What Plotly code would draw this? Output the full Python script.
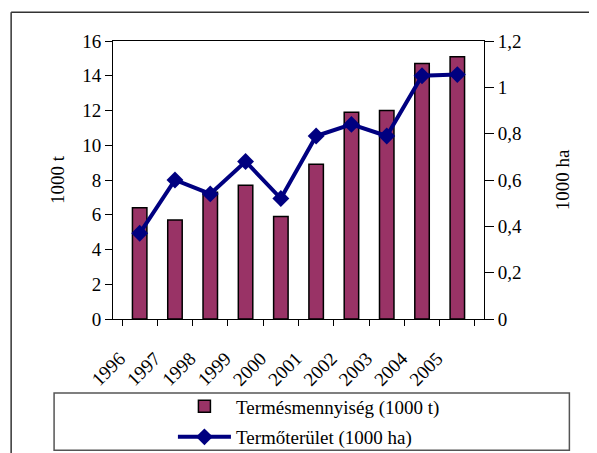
import plotly.graph_objects as go

years = ["1996", "1997", "1998", "1999", "2000", "2001", "2002", "2003", "2004", "2005"]
termes = [6.4, 5.7, 7.3, 7.7, 5.9, 8.9, 11.9, 12.0, 14.7, 15.1]        # 1000 t
terulet = [0.37, 0.60, 0.54, 0.68, 0.52, 0.79, 0.84, 0.79, 1.05, 1.055]  # 1000 ha

# page has an 8px body margin: figure is placed at (8, 8) of the window
OFF = 8
W, H = 597 - OFF, 453 - OFF
# plot-area edges in window (image) pixels
L, R, T, B = 113, 484.5, 40.7, 318.7
FONT = "Liberation Serif, Times New Roman, serif"
FS = 19

fig = go.Figure()
fig.add_trace(go.Bar(
    x=years, y=termes, name="Termésmennyiség (1000 t)",
    marker=dict(color="#993366", line=dict(color="black", width=1.5)),
    legendgroup="a", yaxis="y",
))
fig.add_trace(go.Scatter(
    x=years, y=terulet, name="Termőterület (1000 ha)", mode="lines+markers",
    line=dict(color="#000080", width=4),
    marker=dict(symbol="diamond", size=13, color="#000080"),
    legendgroup="b", yaxis="y2",
))

def px_x(p):
    return (p - L) / (R - L)

def px_y(p):
    return (B - p) / (B - T)

shapes = [
    # outer chart border (left and top)
    dict(type="line", xref="paper", yref="paper", x0=px_x(11), x1=px_x(11), y0=px_y(12), y1=px_y(470),
         line=dict(color="#333333", width=1.5)),
    dict(type="line", xref="paper", yref="paper", x0=px_x(11), x1=px_x(620), y0=px_y(12), y1=px_y(12),
         line=dict(color="#333333", width=1.5)),
    # legend box
    dict(type="rect", xref="paper", yref="paper", x0=px_x(54), x1=px_x(570), y0=px_y(392.7), y1=px_y(450),
         line=dict(color="#555555", width=1.5), fillcolor="white", layer="below"),
]

tf = dict(family=FONT, size=FS, color="black")

fig.update_layout(
    width=W, height=H,
    margin=dict(l=L - OFF, r=W - (R - OFF), t=T - OFF, b=H - (B - OFF), pad=0, autoexpand=False),
    paper_bgcolor="white", plot_bgcolor="white",
    font=tf,
    separators=", ",
    bargap=0.59,
    showlegend=True,
    legend=dict(x=px_x(173), xanchor="left", y=px_y(387), yanchor="top",
                bgcolor="rgba(0,0,0,0)", borderwidth=0, tracegroupgap=3,
                itemwidth=53, font=tf),
    xaxis=dict(type="category", showline=True, linecolor="black", linewidth=1, mirror=True,
               ticks="outside", tickson="boundaries", ticklen=6, tickcolor="black",
               tickangle=-45, showgrid=False, zeroline=False, tickfont=tf,
               ticklabelshift=-20, ticklabelstandoff=20),
    yaxis=dict(range=[0, 16], dtick=2, showline=True, linecolor="black", linewidth=1,
               ticks="outside", ticklen=7, tickcolor="black", showgrid=False, zeroline=False,
               tickfont=tf, title=dict(text="1000 t", standoff=12, font=tf)),
    yaxis2=dict(range=[0, 1.2], dtick=0.2, overlaying="y", side="right", showline=True,
                linecolor="black", linewidth=1, ticks="outside", ticklen=9, tickcolor="black",
                showgrid=False, zeroline=False, tickfont=tf,
                title=dict(text="1000 ha", standoff=34, font=tf)),
    shapes=shapes,
)

fig.write_html("out.html")
